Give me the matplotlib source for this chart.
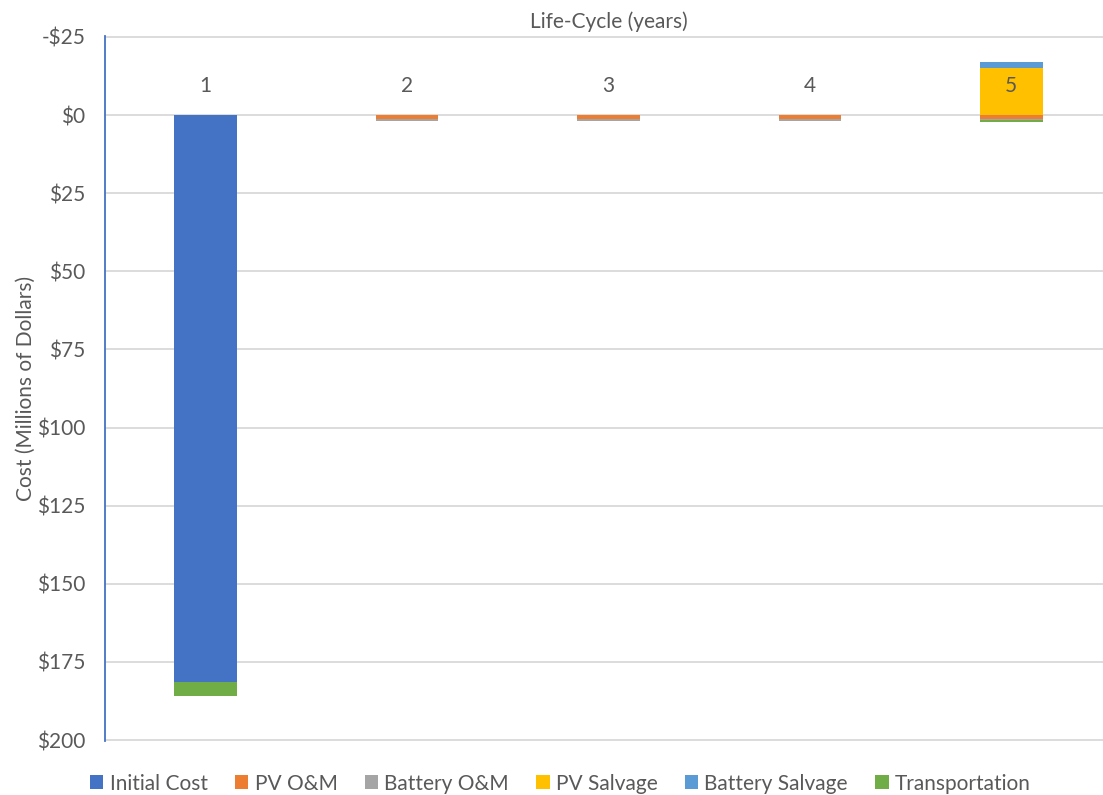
import matplotlib.pyplot as plt
import numpy as np

plt.rcParams['font.family'] = ['Lato', 'DejaVu Sans']

# Dados (milhões de dólares; valores negativos = receita de salvamento)
years = ['1', '2', '3', '4', '5']
initial_cost = [181.5, 0, 0, 0, 0]
pv_om = [0, 1.3, 1.3, 1.3, 1.2]
battery_om = [0, 0.45, 0.45, 0.45, 0.3]
pv_salvage = [0, 0, 0, 0, -15.2]
battery_salvage = [0, 0, 0, 0, -1.9]
transportation = [4.5, 0, 0, 0, 0.7]
y_ticks = [-25, 0, 25, 50, 75, 100, 125, 150, 175, 200]

series = [
    ('Initial Cost', initial_cost, '#4472C4'),
    ('PV O&M', pv_om, '#ED7D31'),
    ('Battery O&M', battery_om, '#A5A5A5'),
    ('PV Salvage', pv_salvage, '#FFC000'),
    ('Battery Salvage', battery_salvage, '#5B9BD5'),
    ('Transportation', transportation, '#70AD47'),
]

txt = '#595959'
fs = 15
fig = plt.figure(figsize=(11.03, 7.95), dpi=100)
ax = fig.add_axes([105 / 1103, 1 - 741 / 795, (1112 - 105) / 1103, (741 - 36) / 795])

x = np.arange(len(years))
pos_bottom = np.zeros(len(years))
neg_bottom = np.zeros(len(years))
for name, vals, color in series:
    vals = np.array(vals, dtype=float)
    bottom = np.where(vals >= 0, pos_bottom, neg_bottom)
    ax.bar(x, vals, 0.31, bottom=bottom, color=color, label=name, zorder=3)
    pos_bottom += np.where(vals >= 0, vals, 0)
    neg_bottom += np.where(vals < 0, vals, 0)

ax.set_xlim(-0.5, len(years) - 0.5)
ax.set_ylim(200.3, -25.3)
ax.set_yticks(y_ticks)
ax.set_yticklabels([('-$%d' % -v) if v < 0 else ('$%d' % v) for v in y_ticks])
ax.tick_params(axis='y', length=0, pad=14, labelsize=fs, labelcolor=txt)
ax.set_xticks([])
ax.grid(axis='y', color='#D9D9D9', linewidth=1.3, zorder=0)

for s in ['top', 'right', 'bottom']:
    ax.spines[s].set_visible(False)
ax.spines['left'].set_color('#4472C4')
ax.spines['left'].set_linewidth(1.3)

for i, lab in enumerate(years):
    ax.text(i, -9.3, lab, ha='center', va='center', fontsize=fs, color=txt, zorder=4)

ax.set_title('Life-Cycle (years)', fontsize=fs, color=txt, pad=6)
ax.set_ylabel('Cost (Millions of Dollars)', fontsize=fs, color=txt, labelpad=1)

fig.legend(loc='lower center', bbox_to_anchor=(0.508, -0.022), ncol=6, frameon=False,
           fontsize=fs, labelcolor=txt, handlelength=0.65, handleheight=0.65,
           handletextpad=0.3, columnspacing=1.3)

plt.savefig('out.png', dpi=100)
